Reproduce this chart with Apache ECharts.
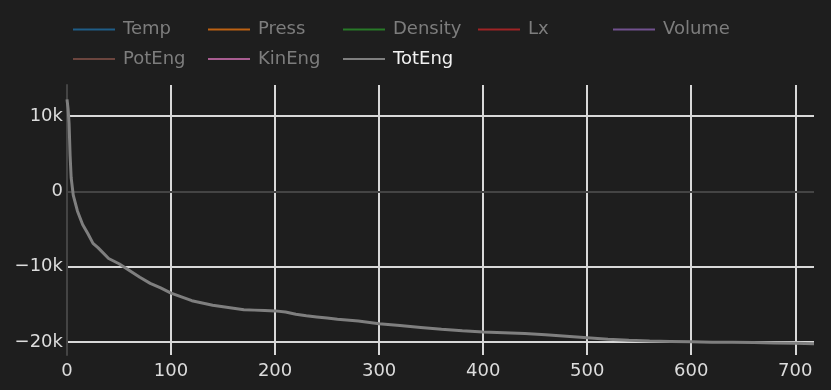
<!DOCTYPE html>
<html>
<head>
<meta charset="utf-8">
<script src="https://cdn.jsdelivr.net/npm/echarts@6/dist/echarts.min.js"></script>
<style>
html,body{margin:0;padding:0;background:#1e1e1e;}
#chart{width:831px;height:390px;}
</style>
</head>
<body>
<div id="chart"></div>
<script>
const seriesNames = ['Temp','Press','Density','Lx','Volume','PotEng','KinEng','TotEng'];
const seriesColors = ['rgba(31,119,180,0.7)','rgba(255,127,14,0.7)','rgba(44,160,44,0.7)','rgba(214,39,40,0.7)','rgba(148,103,189,0.7)','rgba(140,86,75,0.7)','rgba(227,119,194,0.7)','#7f7f7f'];
const steps = [0,1,2,3,4,6,10,15,20,25,30,40,50,60,70,80,90,100,110,120,130,140,150,160,170,180,190,200,210,220,230,240,250,260,280,300,320,340,360,380,400,420,440,460,480,500,520,540,560,580,600,620,640,660,680,700,718];
const totEng = [12200,11000,9000,4700,1800,-500,-2600,-4400,-5600,-6900,-7500,-8900,-9600,-10500,-11400,-12200,-12800,-13500,-14000,-14500,-14800,-15100,-15300,-15500,-15700,-15750,-15800,-15850,-16000,-16300,-16500,-16650,-16800,-16950,-17200,-17550,-17800,-18050,-18300,-18500,-18650,-18750,-18850,-19000,-19200,-19400,-19600,-19750,-19850,-19900,-19950,-20000,-20000,-20050,-20100,-20150,-20200];
const xTickLabels = [0,100,200,300,400,500,600,700];
const xGridValues = [100,200,300,400,500,600,700];
const yTickLabels = [-20000,-10000,0,10000];
const yGridValues = [-20000,-10000,10000];

const FONT = 'DejaVu Sans';
const legendPos = [[73,20.5],[208,20.5],[343,20.5],[478,20.5],[613,20.5],[73,50],[208,50],[343,50]];
const legends = seriesNames.map((n,i)=>({
  left: legendPos[i][0], top: legendPos[i][1], padding: 0,
  data: [{name:n, icon:'rect'}],
  itemWidth: 42, itemHeight: 2,
  textStyle: {fontFamily: FONT, fontSize: 18, color: n==='TotEng' ? '#f2f2f2' : '#7d7d7d', padding:[0,0,0,3]},
  selectedMode: false
}));

const series = seriesNames.map((n,i)=>{
  const s = {
    name: n, type: 'line', showSymbol: false, symbol: 'none',
    color: seriesColors[i],
    lineStyle: {width: 3, color: seriesColors[i]},
    data: []
  };
  if (n === 'TotEng') {
    s.data = steps.map((x,j)=>[x, totEng[j]]);
    s.markLine = {
      silent: true, symbol: 'none', animation: false,
      label: {show:false},
      lineStyle: {color:'#444444', width:2, type:'solid'},
      data: [{yAxis: 0}]
    };
    s.z = 5;
  }
  return s;
});

const kfmt = v => v === 0 ? '0' : (v < 0 ? '\u2212' : '') + (Math.abs(v)/1000) + 'k';

const chart = echarts.init(document.getElementById('chart'), null, {renderer:'canvas'});
chart.setOption({
  backgroundColor: '#1e1e1e',
  animation: false,
  legend: legends,
  grid: {left: 67, right: 17, top: 85, bottom: 35, containLabel: false},
  xAxis: {
    type: 'value', min: 0, max: 718,
    axisLine: {show: false},
    axisTick: {show: false, customValues: xGridValues},
    axisLabel: {customValues: xTickLabels, color: '#dcdcdc', fontFamily: FONT, fontSize: 18, margin: 7},
    splitLine: {show: true, lineStyle: {color: '#d8d8d8', width: 2}}
  },
  yAxis: {
    type: 'value', min: -21700, max: 14100,
    axisLine: {show: true, onZero: false, lineStyle: {color: '#444444', width: 2}},
    axisTick: {show: false, customValues: yGridValues},
    axisLabel: {customValues: yTickLabels, formatter: kfmt, color: '#dcdcdc', fontFamily: FONT, fontSize: 18, margin: 4},
    splitLine: {show: true, lineStyle: {color: '#d8d8d8', width: 2}}
  },
  series: series
});
</script>
</body>
</html>
